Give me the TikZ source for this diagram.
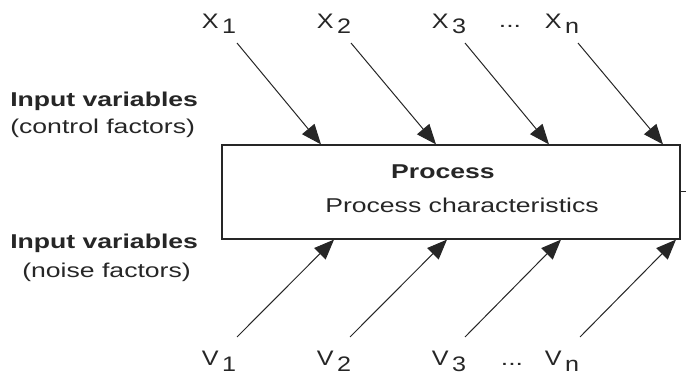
\documentclass[tikz,border=0pt]{standalone}
\usepackage{fontspec}
\setmainfont{Liberation Sans}
\usetikzlibrary{arrows.meta, positioning}
\tikzset{
  inArrow/.style = {draw=black!85, line width=1pt,
    -{Triangle[length=20pt,width=16pt]}},
  lbl/.style = {font=\fontsize{20}{22}\selectfont, xscale=1.33,
    transform shape, inner sep=0pt, text=black!85},
  lblBold/.style = {lbl, font=\fontsize{20}{22}\selectfont\bfseries},
  varLbl/.style = {lbl, xscale=0.9, font=\fontsize{21}{23}\selectfont},
}
\newcommand{\varsub}[3]{#1\hspace{3pt}\raisebox{-#3pt}{#2}}

\begin{document}
\begin{tikzpicture}[x=1pt, y=-1pt]
  \useasboundingbox (0,0) rectangle (686,377);
  % process box
  \node[draw=black!85, line width=1.2pt, minimum width=458pt,
    minimum height=94pt] (proc) at (451,192) {};
  \node[lblBold] (ptitle) at (443,172) {Process};
  \node[lbl] (pchar) at (462,205) {Process characteristics};
  \draw[black!85, line width=1pt] (proc.east) -- ++(12,0);
  % left texts
  \node[lblBold, anchor=west] (ctlA) at (10,101) {Input variables};
  \node[lbl, anchor=west] (ctlB) at (10,128) {(control factors)};
  \node[lblBold, anchor=west] (noiA) at (10,243) {Input variables};
  \node[lbl, anchor=west] (noiB) at (22,272) {(noise factors)};
  % control inputs
  \foreach \i/\lx/\sx/\ex/\t in {1/219/237/321/1, 2/334/351/436/2,
      3/449/465/549/3, 4/562/578/663/n} {
    \node[varLbl] (x\i) at (\lx,24) {\varsub{X}{\t}{5}};
    \coordinate (xs\i) at (\sx,43);
    \coordinate (xe\i) at (\ex,0);
    \draw[inArrow] (xs\i) -- (xe\i |- proc.north);
  }
  \node[lbl] (xdots) at (510,26) {...};
  % noise inputs
  \foreach \i/\lx/\sx/\ex/\t in {1/219/237/334/1, 2/334/350/447/2,
      3/449/465/561/3, 4/562/580/676/n} {
    \node[varLbl] (v\i) at (\lx,361) {\varsub{V}{\t}{6}};
    \coordinate (vs\i) at (\sx,337);
    \coordinate (ve\i) at (\ex,0);
    \draw[inArrow] (vs\i) -- (ve\i |- proc.south);
  }
  \node[lbl] (vdots) at (512,364) {...};
\end{tikzpicture}
\end{document}
